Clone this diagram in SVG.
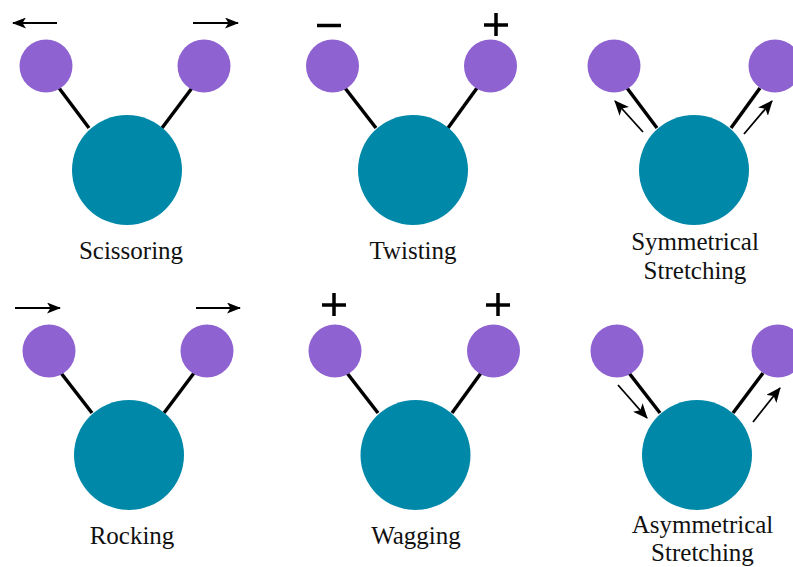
<svg xmlns="http://www.w3.org/2000/svg" width="793" height="567" viewBox="0 0 793 567">
  <defs>
    <marker id="head" viewBox="0 0 14 11" refX="13" refY="5.5" markerWidth="14" markerHeight="11" markerUnits="userSpaceOnUse" orient="auto">
      <path d="M0,0 L14,5.5 L0,11 L3.5,5.5 Z" fill="#000"/>
    </marker>
    <marker id="headS" viewBox="0 0 14 12" refX="13" refY="6" markerWidth="15" markerHeight="13" markerUnits="userSpaceOnUse" orient="auto">
      <path d="M0,0 L14,6 L0,12 L3.5,6 Z" fill="#000"/>
    </marker>
  </defs>
  <style>
    .core { fill: #0088a8; }
    .atom { fill: #8e62d0; }
    .bond { stroke: #000; stroke-width: 3.5; stroke-linecap: butt; }
    .move { stroke: #000; stroke-width: 2.2; fill: none; marker-end: url(#head); }
    .pull { stroke: #000; stroke-width: 1.8; fill: none; marker-end: url(#headS); }
    .sign { stroke: #000; stroke-width: 3.5; fill: none; }
    .label { font-size: 25px; fill: #111; text-anchor: middle; }
  </style>
  <rect width="793" height="567" fill="#fff"/>

  <!-- bonds between the central atom and the outer atoms -->
  <g id="bonds">
    <line class="bond" x1="59" y1="88" x2="89" y2="128"/>
    <line class="bond" x1="192" y1="88" x2="162" y2="128"/>
    <line class="bond" x1="345" y1="88" x2="376" y2="128"/>
    <line class="bond" x1="477" y1="88" x2="448" y2="128"/>
    <line class="bond" x1="627" y1="88" x2="657" y2="128"/>
    <line class="bond" x1="760" y1="88" x2="731" y2="128"/>
    <line class="bond" x1="61" y1="373" x2="92" y2="413"/>
    <line class="bond" x1="194" y1="373" x2="164" y2="413"/>
    <line class="bond" x1="347" y1="373" x2="378" y2="413"/>
    <line class="bond" x1="481" y1="373" x2="452" y2="413"/>
    <line class="bond" x1="629" y1="373" x2="660" y2="413"/>
    <line class="bond" x1="763" y1="373" x2="733" y2="413"/>
  </g>

  <!-- motion arrows and signs -->
  <g id="motion">
    <line class="move" x1="57" y1="23" x2="13" y2="23"/>
    <line class="move" x1="193" y1="23" x2="238" y2="23"/>
    <line class="sign" x1="317" y1="25.5" x2="341" y2="25.5"/>
    <path class="sign" d="M484,25 H508 M496,13 V36" stroke-width="3"/>
    <line class="pull" x1="643" y1="132" x2="615" y2="101"/>
    <line class="pull" x1="744" y1="134" x2="772" y2="101"/>
    <line class="move" x1="15" y1="308" x2="60" y2="308"/>
    <line class="move" x1="196" y1="308" x2="240" y2="308"/>
    <path class="sign" d="M322,305 H346 M334,293 V316" stroke-width="3"/>
    <path class="sign" d="M486,305 H510 M498,293 V316" stroke-width="3"/>
    <line class="pull" x1="618" y1="385" x2="647" y2="418"/>
    <line class="pull" x1="753" y1="422" x2="780" y2="388"/>
  </g>

  <g font-family="'Liberation Serif', 'DejaVu Serif', 'Times New Roman', serif">
    <g id="scissoring">
      <circle class="core" cx="127" cy="170" r="55"/>
      <circle class="atom" cx="46" cy="66" r="26.5"/>
      <circle class="atom" cx="204" cy="66" r="26.5"/>
      <text class="label" x="131" y="259">Scissoring</text>
    </g>

    <g id="twisting">
      <circle class="core" cx="413" cy="170" r="55"/>
      <circle class="atom" cx="332.5" cy="66" r="26.5"/>
      <circle class="atom" cx="490.5" cy="66" r="26.5"/>
      <text class="label" x="413" y="259">Twisting</text>
    </g>

    <g id="symmetrical-stretching">
      <circle class="core" cx="694" cy="170" r="55"/>
      <circle class="atom" cx="614" cy="66" r="26.5"/>
      <circle class="atom" cx="775" cy="66" r="26.5"/>
      <text class="label" x="695" y="250">Symmetrical</text>
      <text class="label" x="695" y="279">Stretching</text>
    </g>

    <g id="rocking">
      <circle class="core" cx="129" cy="455" r="55"/>
      <circle class="atom" cx="49" cy="351" r="26.5"/>
      <circle class="atom" cx="207" cy="351" r="26.5"/>
      <text class="label" x="132" y="544">Rocking</text>
    </g>

    <g id="wagging">
      <circle class="core" cx="415.5" cy="455" r="55"/>
      <circle class="atom" cx="335" cy="351" r="26.5"/>
      <circle class="atom" cx="493.5" cy="351" r="26.5"/>
      <text class="label" x="416" y="544">Wagging</text>
    </g>

    <g id="asymmetrical-stretching">
      <circle class="core" cx="697" cy="455" r="55"/>
      <circle class="atom" cx="617" cy="351" r="26.5"/>
      <circle class="atom" cx="778" cy="351" r="26.5"/>
      <text class="label" x="702.5" y="533">Asymmetrical</text>
      <text class="label" x="702.5" y="561">Stretching</text>
    </g>
  </g>
</svg>
